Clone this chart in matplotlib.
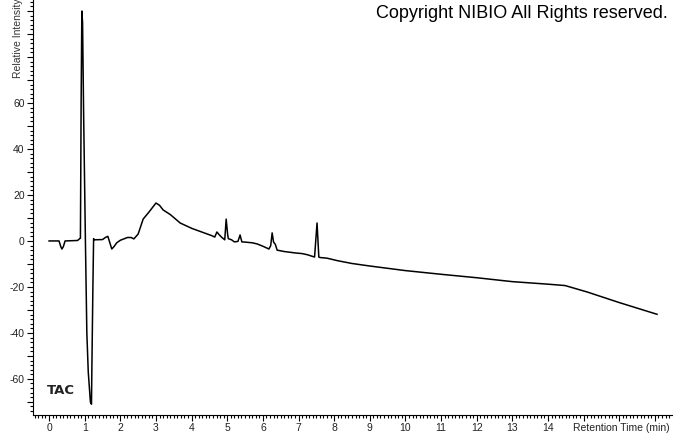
import numpy as np
import matplotlib.pyplot as plt
from matplotlib.ticker import MultipleLocator, FuncFormatter

plt.rcParams['font.family'] = ['Liberation Sans', 'DejaVu Sans']

# chromatogram trace: retention time (min), relative intensity
rt = [0.0, 0.28, 0.33, 0.36, 0.40, 0.45, 0.80, 0.86, 0.88, 0.90, 0.92, 0.94, 0.97,
      1.02, 1.06, 1.10, 1.16, 1.19, 1.20, 1.23, 1.25, 1.27, 1.50, 1.58, 1.65, 1.70,
      1.76, 1.82, 1.90, 2.00, 2.20, 2.30, 2.38, 2.50, 2.64, 2.80, 3.00, 3.10, 3.20,
      3.40, 3.68, 4.00, 4.30, 4.55, 4.65, 4.71, 4.78, 4.85, 4.93, 4.97, 5.01, 5.03,
      5.12, 5.20, 5.30, 5.36, 5.41, 5.50, 5.70, 5.84, 6.00, 6.17, 6.22, 6.26, 6.30,
      6.35, 6.40, 6.60, 6.90, 7.10, 7.25, 7.45, 7.52, 7.57, 7.60, 7.80, 8.10, 8.50,
      9.00, 10.0, 11.0, 12.0, 13.0, 14.0, 14.48, 15.1, 16.0, 17.06]
intensity = [0.0, 0.0, -2.5, -3.5, -2.5, 0.0, 0.2, 1.0, 1.2, 60, 100, 95, 55,
             0.0, -40, -57, -70, -71, -57, -20, 1.0, 0.5, 0.6, 1.5, 2.0, -0.5,
             -3.5, -2.5, -0.8, 0.3, 1.5, 1.5, 0.9, 3.0, 9.5, 12.5, 16.5, 15.5, 13.5,
             11.5, 7.8, 5.5, 3.8, 2.4, 1.7, 3.9, 2.6, 1.5, 0.5, 9.5, 3.0, 1.0,
             0.5, -0.4, -0.2, 2.6, -0.4, -0.5, -0.8, -1.3, -2.3, -3.5, -2.0, 3.5, -0.5,
             -1.5, -4.0, -4.6, -5.2, -5.5, -6.0, -7.0, 7.8, -7.0, -7.2, -7.5, -8.6, -9.8,
             -10.9, -12.9, -14.5, -16.0, -17.7, -18.8, -19.4, -22.2, -26.8, -31.9]

fig = plt.figure(figsize=(6.74, 4.34), dpi=100)
ax = fig.add_axes([0.049, 0.0438, 0.948, 0.9562])
ax.plot(rt, intensity, color='black', lw=1.1)

ax.set_xlim(-0.45, 17.48)
ax.set_ylim(-75.7, 104.8)
for s in ['top', 'right']:
    ax.spines[s].set_visible(False)

ax.xaxis.set_major_locator(MultipleLocator(1))
ax.xaxis.set_minor_locator(MultipleLocator(0.1))
ax.yaxis.set_major_locator(MultipleLocator(10))
ax.yaxis.set_minor_locator(MultipleLocator(2))
ax.xaxis.set_major_formatter(FuncFormatter(lambda v, p: '%d' % v if 0 <= v <= 14.5 else ''))
ax.yaxis.set_major_formatter(FuncFormatter(
    lambda v, p: '%d' % v if (round(v) % 20 == 0 and -60 <= v <= 60) else ''))
ax.tick_params(which='major', length=4, width=0.8, labelsize=7.5, colors='black',
               labelcolor='#222222', pad=2)
ax.tick_params(which='minor', length=2, width=0.8)

fig.text(0.994, 0.013, 'Retention Time (min)', fontsize=7.5, color='#222222',
         ha='right', va='center')
fig.text(0.027, 0.82, 'Relative Intensity (%)', fontsize=7.5, color='#333333',
         rotation=90, ha='center', va='bottom')
fig.text(0.99, 0.968, 'Copyright NIBIO All Rights reserved.', fontsize=13,
         ha='right', va='center')
ax.text(0.07, 0.1, 'TAC', transform=fig.transFigure, fontsize=9.5,
        fontweight='bold', family='DejaVu Sans', ha='left', va='center', color='#222222')

fig.savefig('out.png', dpi=100)
